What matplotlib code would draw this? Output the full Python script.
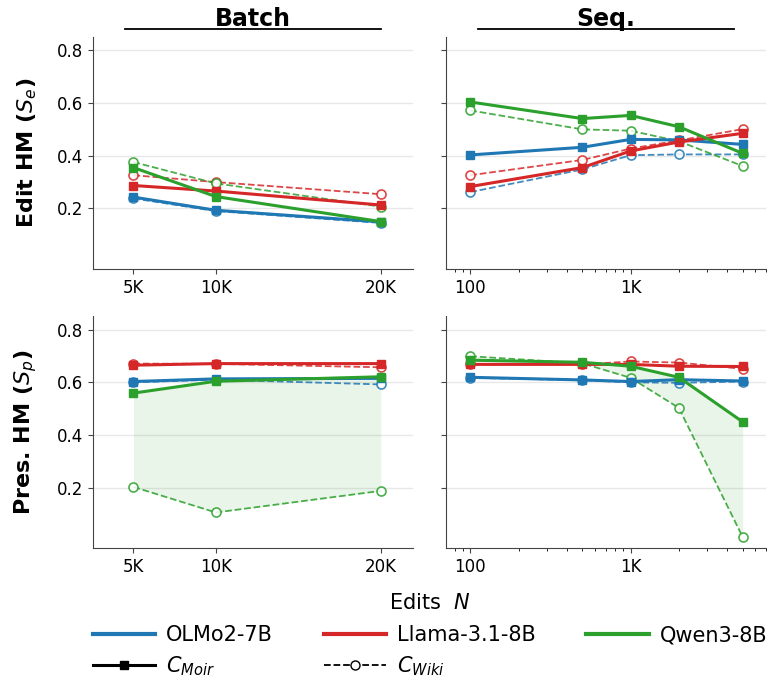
import matplotlib
matplotlib.use("Agg")
import matplotlib.pyplot as plt
from matplotlib.lines import Line2D
from matplotlib.ticker import FuncFormatter, FixedLocator

# x positions
batch_n = [5000, 10000, 20000]
seq_n = [100, 500, 1000, 2000, 5000]

models = ["OLMo2-7B", "Llama-3.1-8B", "Qwen3-8B"]
colors = ["#1f77b4", "#d62728", "#2ca02c"]

# edit HM, batch
edit_batch_moir = {
    "OLMo2-7B": [0.243, 0.193, 0.149],
    "Llama-3.1-8B": [0.287, 0.266, 0.213],
    "Qwen3-8B": [0.355, 0.245, 0.150],
}
edit_batch_wiki = {
    "OLMo2-7B": [0.238, 0.190, 0.145],
    "Llama-3.1-8B": [0.326, 0.300, 0.254],
    "Qwen3-8B": [0.376, 0.295, 0.207],
}
# edit HM, sequential
edit_seq_moir = {
    "OLMo2-7B": [0.403, 0.432, 0.462, 0.460, 0.443],
    "Llama-3.1-8B": [0.283, 0.355, 0.418, 0.452, 0.485],
    "Qwen3-8B": [0.604, 0.541, 0.553, 0.510, 0.409],
}
edit_seq_wiki = {
    "OLMo2-7B": [0.262, 0.348, 0.402, 0.405, 0.405],
    "Llama-3.1-8B": [0.326, 0.384, 0.427, 0.458, 0.501],
    "Qwen3-8B": [0.572, 0.500, 0.495, 0.455, 0.361],
}
# preservation HM, batch
pres_batch_moir = {
    "OLMo2-7B": [0.603, 0.613, 0.615],
    "Llama-3.1-8B": [0.665, 0.671, 0.671],
    "Qwen3-8B": [0.559, 0.604, 0.621],
}
pres_batch_wiki = {
    "OLMo2-7B": [0.600, 0.610, 0.592],
    "Llama-3.1-8B": [0.671, 0.670, 0.657],
    "Qwen3-8B": [0.203, 0.106, 0.188],
}
# preservation HM, sequential
pres_seq_moir = {
    "OLMo2-7B": [0.619, 0.609, 0.603, 0.610, 0.605],
    "Llama-3.1-8B": [0.668, 0.668, 0.668, 0.661, 0.660],
    "Qwen3-8B": [0.684, 0.676, 0.661, 0.619, 0.450],
}
pres_seq_wiki = {
    "OLMo2-7B": [0.617, 0.608, 0.600, 0.598, 0.603],
    "Llama-3.1-8B": [0.670, 0.668, 0.679, 0.675, 0.651],
    "Qwen3-8B": [0.699, 0.672, 0.617, 0.503, 0.013],
}

yticks = [0.2, 0.4, 0.6, 0.8]

fig = plt.figure(figsize=(7.67, 6.83), dpi=100)

left_x, left_w = 0.1213, 0.4172
right_x, right_w = 0.5815, 0.4175
top_y, bot_y, h = 0.6061, 0.1972, 0.3395

ax_tl = fig.add_axes([left_x, top_y, left_w, h])
ax_tr = fig.add_axes([right_x, top_y, right_w, h])
ax_bl = fig.add_axes([left_x, bot_y, left_w, h])
ax_br = fig.add_axes([right_x, bot_y, right_w, h])

panels = [
    (ax_tl, batch_n, edit_batch_moir, edit_batch_wiki, False),
    (ax_tr, seq_n, edit_seq_moir, edit_seq_wiki, False),
    (ax_bl, batch_n, pres_batch_moir, pres_batch_wiki, True),
    (ax_br, seq_n, pres_seq_moir, pres_seq_wiki, True),
]


def k_fmt(v, pos):
    if v >= 1000:
        return "%dK" % int(round(v / 1000))
    return "%d" % int(v)


for ax, xs, moir, wiki, shade in panels:
    for m, c in zip(models, colors):
        ax.plot(xs, wiki[m], color=c, ls="--", lw=1.3, marker="o", ms=6.5,
                mfc="white", mec=c, mew=1.2, alpha=0.85, zorder=3)
        ax.plot(xs, moir[m], color=c, ls="-", lw=2.2, marker="s", ms=6,
                zorder=4)
    if shade:
        ax.fill_between(xs, moir["Qwen3-8B"], wiki["Qwen3-8B"],
                        color="#2ca02c", alpha=0.1, lw=0, zorder=1)
    ax.set_ylim(-0.03, 0.85)
    ax.set_yticks(yticks)
    ax.grid(axis="y", color="#e8e8e8", lw=1, zorder=0)
    ax.set_axisbelow(True)
    for s in ["top", "right"]:
        ax.spines[s].set_visible(False)
    for s in ["left", "bottom"]:
        ax.spines[s].set_color("#444444")
    ax.tick_params(labelsize=12, color="#444444")

for ax in (ax_tl, ax_bl):
    ax.set_xlim(2550, 21960)
    ax.xaxis.set_major_locator(FixedLocator(batch_n))
    ax.xaxis.set_major_formatter(FuncFormatter(k_fmt))

for ax in (ax_tr, ax_br):
    ax.set_xscale("log")
    ax.set_xlim(70.6, 7015)
    ax.xaxis.set_major_locator(FixedLocator([100, 1000]))
    ax.xaxis.set_major_formatter(FuncFormatter(k_fmt))
    ax.tick_params(labelleft=False)

ax_tl.set_ylabel("Edit HM ($S_e$)", fontsize=16, fontweight="bold", labelpad=13)
ax_bl.set_ylabel("Pres. HM ($S_p$)", fontsize=16, fontweight="bold", labelpad=13)

for ax, t in [(ax_tl, "Batch"), (ax_tr, "Seq.")]:
    ax.set_title(t, fontsize=17, fontweight="bold", pad=8)
    ax.add_line(Line2D([0.1, 0.9], [1.034, 1.034], transform=ax.transAxes,
                       color="black", lw=1.3, clip_on=False))

fig.text(0.5606, 0.117, "Edits  $N$", fontsize=15, ha="center", va="center")

handles = [
    Line2D([], [], color=colors[0], lw=3),
    Line2D([], [], color="black", lw=2.2, marker="s", ms=6),
    Line2D([], [], color=colors[1], lw=3),
    Line2D([], [], color="black", lw=1.3, ls="--", marker="o", ms=6.5,
           mfc="white", mec="black"),
    Line2D([], [], color=colors[2], lw=3),
]
labels = ["OLMo2-7B", "$C_{Moir}$", "Llama-3.1-8B", "$C_{Wiki}$", "Qwen3-8B"]
fig.legend(handles, labels, loc="center", bbox_to_anchor=(0.5606, 0.046),
           ncol=3, frameon=False, fontsize=15, handlelength=3.0,
           handletextpad=0.5, columnspacing=2.45, labelspacing=0.45)

fig.savefig("out.png", dpi=100)
